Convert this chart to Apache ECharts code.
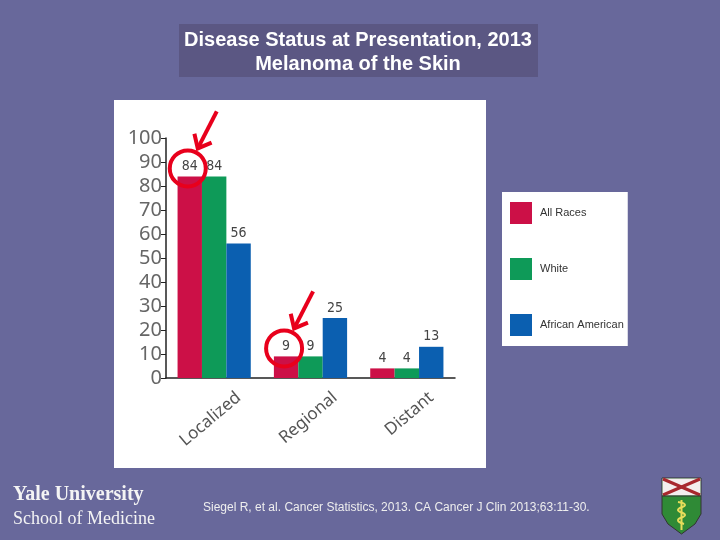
<!DOCTYPE html>
<html>
<head>
<meta charset="utf-8">
<title>Disease Status at Presentation, 2013</title>
<style>
  html, body { margin: 0; padding: 0; background: #68689b; }
  #main { width: 720px; height: 540px; }
</style>
<script src="https://cdn.jsdelivr.net/npm/echarts@6/dist/echarts.min.js"></script>
</head>
<body>
<div id="main"></div>
<script>
// data
var categories = ['Localized', 'Regional', 'Distant'];
var seriesNames = ['All Races', 'White', 'African American'];
var allRaces = [84, 9, 4];
var white = [84, 9, 4];
var africanAmerican = [56, 25, 13];
var circled = [[0, 84], [1, 9]]; // category index, value of the circled "All Races" bars

var colors = ['#cc1047', '#0e9a58', '#0b5fb0'];

var chart = echarts.init(document.getElementById('main'));

function barSeries(name, data) {
  return {
    name: name,
    type: 'bar',
    data: data,
    barGap: '0%',
    barCategoryGap: '24%',
    label: {
      show: true,
      position: 'top',
      distance: 3,
      fontSize: 14,
      color: '#444',
      fontFamily: 'DejaVu Sans Condensed, Liberation Sans Narrow, sans-serif'
    }
  };
}

chart.setOption({
  backgroundColor: '#68689b',
  color: colors,
  animation: false,
  grid: { left: 166, right: 265, top: 138, bottom: 162 },
  legend: {
    data: seriesNames,
    orient: 'vertical',
    left: 502,
    top: 192,
    icon: 'rect',
    itemWidth: 22,
    itemHeight: 22,
    itemGap: 34,
    padding: [10, 4, 10, 8],
    backgroundColor: '#fff',
    textStyle: { fontSize: 11, color: '#333', fontFamily: 'Liberation Sans, Arial, sans-serif', padding: [0, 0, 0, 3] }
  },
  xAxis: {
    type: 'category',
    data: categories,
    axisLine: { lineStyle: { color: '#222', width: 1.5 } },
    axisTick: { inside: true, length: 5, lineStyle: { color: '#222' } },
    axisLabel: {
      rotate: 40,
      margin: 38,
      padding: [28, -32, 0, 0],
      fontSize: 17,
      color: '#555',
      fontFamily: 'Noto Sans, sans-serif'
    }
  },
  yAxis: {
    type: 'value',
    min: 0,
    max: 100,
    interval: 10,
    splitLine: { show: false },
    axisLine: { show: true, lineStyle: { color: '#222', width: 1.5 } },
    axisTick: { show: true, length: 5, lineStyle: { color: '#222' } },
    axisLabel: { fontSize: 20, color: '#666', margin: 4, fontFamily: 'Noto Sans, sans-serif' }
  },
  series: [
    barSeries(seriesNames[0], allRaces),
    barSeries(seriesNames[1], white),
    barSeries(seriesNames[2], africanAmerican)
  ]
});

// red circles + arrows, placed from the bar positions
var red = '#e8001c';
var marks = [];
var band = chart.convertToPixel({ gridIndex: 0 }, [1, 0])[0] - chart.convertToPixel({ gridIndex: 0 }, [0, 0])[0];
var barW = band * 0.76 / 3;
circled.forEach(function (c) {
  var p = chart.convertToPixel({ gridIndex: 0 }, c);
  var cx = p[0] - barW - 2, cy = p[1] - 8;
  marks.push({ type: 'circle', z: 20, shape: { cx: cx, cy: cy, r: 18 }, style: { fill: 'none', stroke: red, lineWidth: 4 } });
  var tip = [cx + 10, cy - 20], tail = [cx + 29, cy - 57];
  var dx = tip[0] - tail[0], dy = tip[1] - tail[1], len = Math.sqrt(dx * dx + dy * dy);
  var ux = dx / len, uy = dy / len;
  function arm(a) {
    var ca = Math.cos(a), sa = Math.sin(a);
    return [tip[0] - 15 * (ux * ca - uy * sa), tip[1] - 15 * (ux * sa + uy * ca)];
  }
  marks.push({ type: 'line', z: 20, shape: { x1: tail[0], y1: tail[1], x2: tip[0], y2: tip[1] }, style: { stroke: red, lineWidth: 4 } });
  marks.push({ type: 'polyline', z: 20, shape: { points: [arm(0.7), tip, arm(-0.7)] }, style: { fill: 'none', stroke: red, lineWidth: 4, lineJoin: 'miter' } });
});

// slide furniture
var footFont = 'Liberation Serif, Times New Roman, serif';
var slide = [
  { type: 'rect', z: -10, shape: { x: 114, y: 100, width: 372, height: 368 }, style: { fill: '#fff' } },
  { type: 'rect', z: -10, shape: { x: 179, y: 24, width: 359, height: 53 }, style: { fill: '#5b5783' } },
  {
    type: 'text', z: 5, x: 358, y: 28,
    style: {
      text: 'Disease Status at Presentation, 2013\nMelanoma of the Skin',
      fill: '#fff', font: 'bold 20px Liberation Sans, Arial, sans-serif',
      textAlign: 'center', textVerticalAlign: 'top', lineHeight: 24
    }
  },
  { type: 'text', x: 13, y: 505, style: { text: 'Yale University', fill: '#f4f4f4', font: 'bold 20px ' + footFont, textVerticalAlign: 'bottom' } },
  { type: 'text', x: 13, y: 528, style: { text: 'School of Medicine', fill: '#f4f4f4', font: '18px ' + footFont, textVerticalAlign: 'bottom' } },
  { type: 'text', x: 203, y: 508, style: { text: 'Siegel R, et al. Cancer Statistics, 2013. CA Cancer J Clin 2013;63:11-30.', fill: '#eeeeee', font: '12px Liberation Sans, Arial, sans-serif', textVerticalAlign: 'middle' } },
  {
    type: 'group', x: 662, y: 478,
    children: [
      { type: 'polygon', shape: { points: [[0, 0], [39, 0], [39, 36], [33, 46], [19.5, 56], [6, 46], [0, 36]] }, style: { fill: '#2f8a36', stroke: '#333', lineWidth: 1 } },
      { type: 'rect', shape: { x: 0.5, y: 0.5, width: 38, height: 17 }, style: { fill: '#f4eeee' } },
      { type: 'line', shape: { x1: 1, y1: 1, x2: 38, y2: 17 }, style: { stroke: '#a8282e', lineWidth: 3 } },
      { type: 'line', shape: { x1: 38, y1: 1, x2: 1, y2: 17 }, style: { stroke: '#a8282e', lineWidth: 3 } },
      { type: 'line', shape: { x1: 0, y1: 18, x2: 39, y2: 18 }, style: { stroke: '#333', lineWidth: 1 } },
      { type: 'line', shape: { x1: 19.5, y1: 22, x2: 19.5, y2: 52 }, style: { stroke: '#e6dc5a', lineWidth: 2 } },
      { type: 'polyline', shape: { points: [[16, 24], [23, 27], [16, 32], [23, 37], [16, 42], [22, 46]], smooth: 0.5 }, style: { fill: 'none', stroke: '#e6dc5a', lineWidth: 2 } }
    ]
  }
];

chart.setOption({ graphic: slide.concat(marks) });
</script>
</body>
</html>
